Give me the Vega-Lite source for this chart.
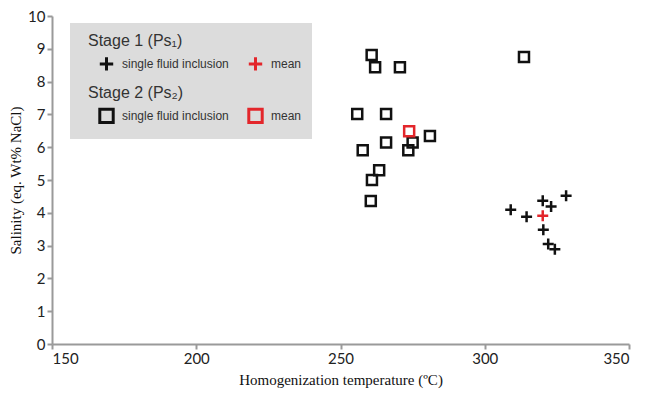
{
  "$schema": "https://vega.github.io/schema/vega-lite/v6.json",
  "width": 577,
  "height": 328,
  "autosize": {"type": "none"},
  "padding": {"left": 52, "top": 16, "right": 18, "bottom": 52},
  "background": "white",
  "datasets": {
    "stage1": [
      {"T": 309.0, "S": 4.09, "kind": "single fluid inclusion"},
      {"T": 314.5, "S": 3.88, "kind": "single fluid inclusion"},
      {"T": 320.1, "S": 4.37, "kind": "single fluid inclusion"},
      {"T": 323.0, "S": 4.19, "kind": "single fluid inclusion"},
      {"T": 328.2, "S": 4.52, "kind": "single fluid inclusion"},
      {"T": 320.3, "S": 3.48, "kind": "single fluid inclusion"},
      {"T": 322.0, "S": 3.05, "kind": "single fluid inclusion"},
      {"T": 324.3, "S": 2.89, "kind": "single fluid inclusion"},
      {"T": 320.1, "S": 3.91, "kind": "mean"}
    ],
    "stage2": [
      {"T": 260.8, "S": 8.81, "kind": "single fluid inclusion"},
      {"T": 262.0, "S": 8.44, "kind": "single fluid inclusion"},
      {"T": 270.6, "S": 8.44, "kind": "single fluid inclusion"},
      {"T": 255.8, "S": 7.01, "kind": "single fluid inclusion"},
      {"T": 265.8, "S": 7.01, "kind": "single fluid inclusion"},
      {"T": 281.0, "S": 6.34, "kind": "single fluid inclusion"},
      {"T": 275.0, "S": 6.14, "kind": "single fluid inclusion"},
      {"T": 265.8, "S": 6.14, "kind": "single fluid inclusion"},
      {"T": 257.7, "S": 5.91, "kind": "single fluid inclusion"},
      {"T": 273.5, "S": 5.91, "kind": "single fluid inclusion"},
      {"T": 263.4, "S": 5.30, "kind": "single fluid inclusion"},
      {"T": 260.9, "S": 5.00, "kind": "single fluid inclusion"},
      {"T": 260.5, "S": 4.36, "kind": "single fluid inclusion"},
      {"T": 313.6, "S": 8.75, "kind": "single fluid inclusion"},
      {"T": 273.8, "S": 6.49, "kind": "mean"}
    ]
  },
  "config": {
    "view": {"stroke": null},
    "axis": {
      "grid": false,
      "domainColor": "#9a9a9a",
      "domainWidth": 2,
      "tickColor": "#9a9a9a",
      "tickWidth": 2,
      "tickSize": 5,
      "labelFont": "Lato",
      "labelFontSize": 15,
      "labelColor": "#222222",
      "labelOverlap": false,
      "titleFont": "Liberation Serif",
      "titleFontSize": 15,
      "titleFontWeight": "normal",
      "titleColor": "#111111"
    },
    "legend": {
      "fillColor": "#dcdcdc",
      "padding": 10,
      "titleFont": "Liberation Sans",
      "titleFontSize": 16,
      "titleFontWeight": "normal",
      "titleColor": "#333333",
      "titlePadding": 6,
      "labelFont": "Liberation Sans",
      "labelFontSize": 12,
      "labelColor": "#333333",
      "labelOffset": 7,
      "columnPadding": 0,
      "symbolOffset": 18,
      "symbolSize": 180,
      "symbolStrokeWidth": 3
    }
  },
  "encoding": {
    "x": {"field": "T", "type": "quantitative", "scale": {"domain": [150, 350], "nice": false, "zero": false}, "axis": {"values": [150, 200, 250, 300, 350], "title": "Homogenization temperature (ºC)", "titlePadding": 6}},
    "y": {"field": "S", "type": "quantitative", "scale": {"domain": [0, 10], "nice": false, "zero": false}, "axis": {"values": [0, 1, 2, 3, 4, 5, 6, 7, 8, 9, 10], "title": "Salinity (eq. Wt% NaCl)"}}
  },
  "layer": [
    {
      "data": {"name": "stage1"},
      "mark": {"type": "point", "shape": "M-1,0H1M0,-1V1", "filled": false, "size": 121, "strokeWidth": 2.5, "opacity": 1},
      "encoding": {
        "color": {
          "field": "kind", "type": "nominal", "sort": ["single fluid inclusion", "mean"],
          "scale": {"range": ["#111111", "#e3262b"]},
          "legend": {
            "title": "Stage 1 (Ps₁)", "orient": "none", "legendX": 18, "legendY": 7, "direction": "horizontal", "symbolType": "M-1,0H1M0,-1V1",
            "encoding": {"title": {"dx": {"value": 8}}}
          }
        }
      }
    },
    {
      "data": {"name": "stage2"},
      "mark": {"type": "point", "shape": "square", "filled": false, "size": 100, "strokeWidth": 2.5, "opacity": 1},
      "encoding": {
        "stroke": {
          "field": "kind", "type": "nominal", "sort": ["single fluid inclusion", "mean"],
          "scale": {"range": ["#111111", "#e3262b"]},
          "legend": {
            "title": "Stage 2 (Ps₂)", "orient": "none", "legendX": 18, "legendY": 59, "direction": "horizontal", "symbolType": "square",
            "encoding": {"title": {"dx": {"value": 8}}}
          }
        }
      }
    }
  ]
}
